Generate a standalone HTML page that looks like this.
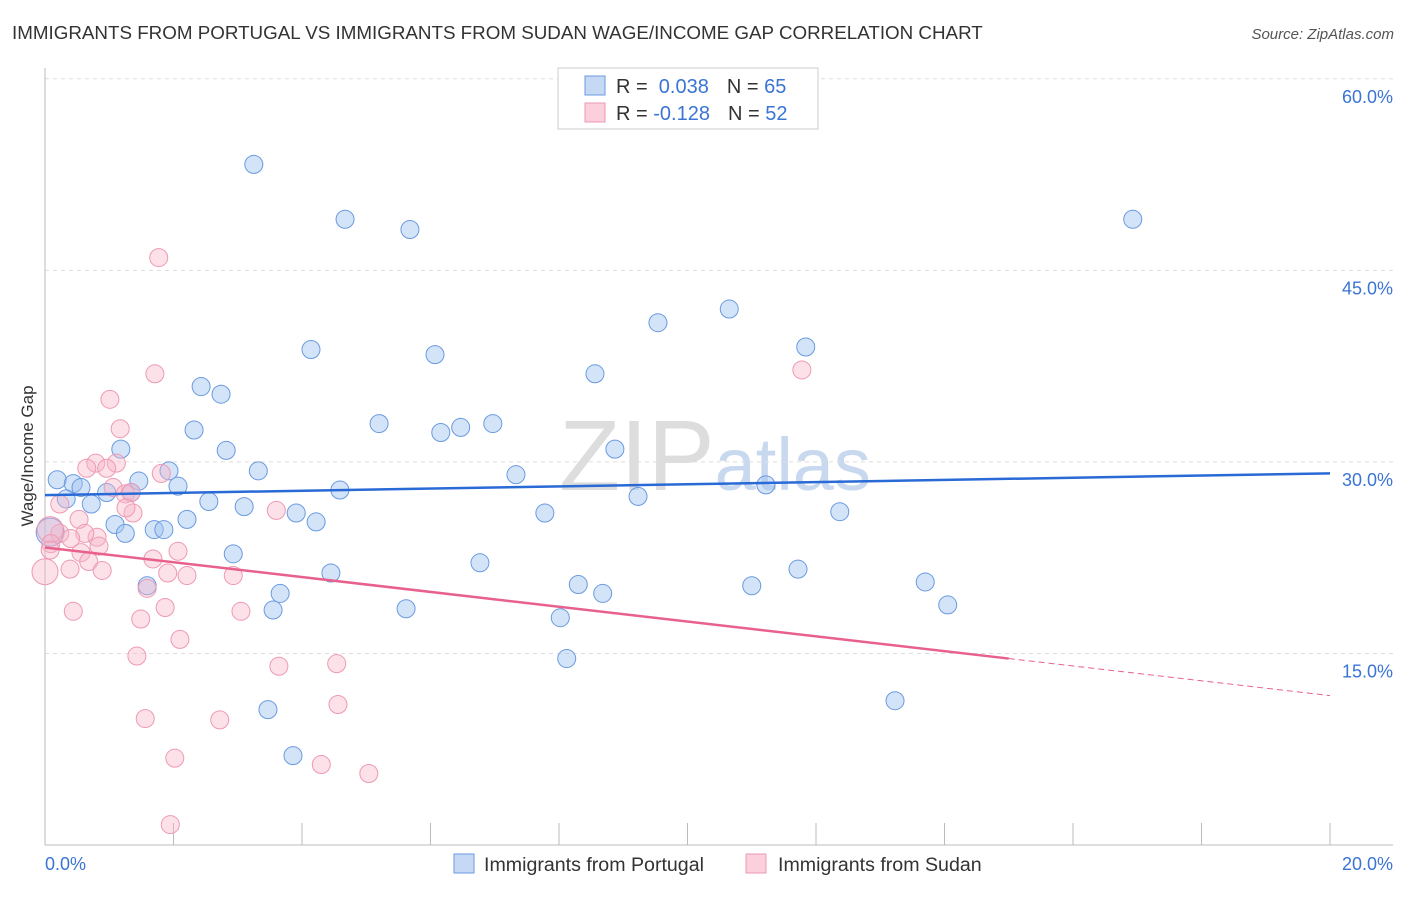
<!DOCTYPE html>
<html><head><meta charset="utf-8"><style>
body{margin:0;background:#fff;font-family:"Liberation Sans",sans-serif;}
svg text{font-family:"Liberation Sans",sans-serif;}
</style></head><body>
<svg id="chart" width="1406" height="892" viewBox="0 0 1406 892" xmlns="http://www.w3.org/2000/svg">
<text x="12" y="39" font-size="18.8" fill="#333">IMMIGRANTS FROM PORTUGAL VS IMMIGRANTS FROM SUDAN WAGE/INCOME GAP CORRELATION CHART</text>
<text x="1394" y="39" font-size="15" fill="#555" text-anchor="end" font-style="italic">Source: ZipAtlas.com</text>
<text x="715" y="490" font-size="100" fill="#ddd" text-anchor="middle" font-family="Liberation Serif">ZIP<tspan fill="#c8d8ee" font-family="Liberation Sans" font-size="74">atlas</tspan></text>
<g id="grid"></g>
<g id="axes"></g>
<g id="pts"></g>
<g id="lines"></g>
<text transform="translate(33,456) rotate(-90)" font-size="17" fill="#333" text-anchor="middle">Wage/Income Gap</text>
<g>
<rect x="558" y="68" width="260" height="61" fill="#fff" stroke="#ccc"/>
<rect x="585" y="76" width="20" height="19" fill="#c5d9f5" stroke="#6a9ae0"/>
<rect x="585" y="103" width="20" height="19" fill="#fbd0dc" stroke="#ee99b3"/>
<text x="616" y="93" font-size="20" fill="#333">R = <tspan fill="#3a74d4">&#160;0.038</tspan><tspan dx="18">N = </tspan><tspan fill="#3a74d4">65</tspan></text>
<text x="616" y="120" font-size="20" fill="#333">R = <tspan fill="#3a74d4">-0.128</tspan><tspan dx="18">N = </tspan><tspan fill="#3a74d4">52</tspan></text>
</g>
<g>
<rect x="454" y="854" width="20" height="19" fill="#c5d9f5" stroke="#6a9ae0"/>
<text x="484" y="871" font-size="19.6" fill="#333">Immigrants from Portugal</text>
<rect x="746" y="854" width="20" height="19" fill="#fbd0dc" stroke="#ee99b3"/>
<text x="778" y="871" font-size="19.6" fill="#333">Immigrants from Sudan</text>
</g>
</svg>
<script>
const xTickLabels=["0.0%","20.0%"];
const yTicks=[15,30,45,60];
const yTickLabels=["15.0%","30.0%","45.0%","60.0%"];
const portugalX=[3.25,4.67,5.68,16.93,10.65,9.54,4.14,6.07,11.84,8.56,2.43,2.74,5.20,6.47,6.97,6.16,2.32,2.82,1.18,8.87,3.32,1.93,0.19,0.44,0.56,1.46,2.07,7.33,0.96,1.34,4.59,11.22,9.23,0.33,0.72,2.55,3.10,3.91,7.78,12.37,2.21,4.22,1.09,1.70,1.85,1.25,0.08,2.93,6.77,4.45,11.72,8.30,11.00,13.70,1.59,3.66,8.68,14.05,3.55,5.62,8.02,8.12,3.47,13.23,3.86];
const portugalY=[53.3,49.0,48.2,49.0,41.97,40.9,38.8,38.4,39.0,36.9,35.9,35.3,33.0,32.7,33.0,32.3,32.5,30.9,31.0,31.0,29.3,29.3,28.6,28.3,28.0,28.5,28.1,29.0,27.6,27.6,27.8,28.2,27.3,27.1,26.7,26.9,26.5,26.0,26.0,26.1,25.5,25.3,25.1,24.7,24.7,24.4,24.5,22.8,22.1,21.3,21.6,20.4,20.3,20.6,20.3,19.7,19.7,18.8,18.4,18.5,17.8,14.6,10.6,11.3,7.0];
const sudanX=[1.77,1.71,11.78,1.01,1.17,0.79,1.11,0.65,0.96,1.81,1.06,1.25,1.34,0.23,1.37,3.60,1.26,0.53,0.81,0.62,0.23,0.08,0.40,2.07,0.84,0.56,1.68,0.68,0.09,0.0,0.39,0.89,1.91,2.21,2.93,1.59,0.44,1.87,3.05,1.49,2.10,1.43,3.64,4.54,1.56,2.72,4.56,2.02,4.30,5.04,1.95,0.08];
const sudanY=[46.0,36.9,37.2,34.9,32.6,29.9,29.9,29.5,29.5,29.1,28.0,27.5,27.6,26.7,26.0,26.2,26.4,25.5,24.1,24.4,24.4,24.7,24.0,23.0,23.4,22.9,22.4,22.2,23.6,21.4,21.6,21.5,21.3,21.1,21.1,20.1,18.3,18.6,18.3,17.7,16.1,14.8,14.0,14.2,9.9,9.8,11.0,6.8,6.3,5.6,1.6,23.1];
const portugalTrend=[27.4,29.1];
const sudanTrend=[23.3,11.7];
const NS="http://www.w3.org/2000/svg";
const X0=45,X1=1330,Y0=845,PXY=12.77;
function sx(v){return X0+(X1-X0)*v/20;}
function sy(v){return Y0-v*PXY;}
function mk(tag,attrs,parent){const e=document.createElementNS(NS,tag);for(const k in attrs)e.setAttribute(k,attrs[k]);parent.appendChild(e);return e;}
const grid=document.getElementById('grid'),axes=document.getElementById('axes'),pts=document.getElementById('pts'),lines=document.getElementById('lines');
yTicks.forEach((t,i)=>{
 const g=mk('line',{x1:X0,x2:1393,y1:sy(t),y2:sy(t),stroke:'#ddd','stroke-dasharray':'4,4'},grid);
 
 
 const tx=mk('text',{x:1393,y:sy(t)+24,'font-size':18,fill:'#3a74d4','text-anchor':'end'},axes);
 tx.textContent=yTickLabels[i];
 
 
});
const al=mk('line',{x1:X0,x2:X0,y1:68,y2:Y0,stroke:'#bbb'},axes);


const bl=mk('line',{x1:X0,x2:1393,y1:Y0,y2:Y0,stroke:'#bbb'},axes);


for(let i=0;i<=10;i++){
 const tk=mk('line',{x1:sx(i*2),x2:sx(i*2),y1:823,y2:Y0,stroke:'#bbb'},axes);
 
 
}
const xl0=mk('text',{x:45,y:870,'font-size':18,fill:'#3a74d4'},axes);
xl0.textContent=xTickLabels[0];


const xl1=mk('text',{x:1393,y:870,'font-size':18,fill:'#3a74d4','text-anchor':'end'},axes);
xl1.textContent=xTickLabels[1];


portugalX.forEach((v,i)=>{
 const r=(v<0.1&&portugalY[i]>24&&portugalY[i]<25)?14:9;
 const c=mk('circle',{cx:sx(v),cy:sy(portugalY[i]),r:r,fill:'rgba(160,195,240,0.45)',stroke:'#6a9ae0','stroke-width':1},pts);
 
 
});
sudanX.forEach((v,i)=>{
 const r=(v<0.1&&(sudanY[i]<22||sudanY[i]>24.5))?13:9;
 const c=mk('circle',{cx:sx(v),cy:sy(sudanY[i]),r:r,fill:'rgba(248,180,200,0.4)',stroke:'#ee99b3','stroke-width':1},pts);
 
 
});
const pl=mk('line',{x1:sx(0),y1:sy(portugalTrend[0]),x2:sx(20),y2:sy(portugalTrend[1]),stroke:'#2a6ad6','stroke-width':2.5},lines);


const sEndX=15,sMid=sudanTrend[0]+(sudanTrend[1]-sudanTrend[0])*sEndX/20;
const sl=mk('line',{x1:sx(0),y1:sy(sudanTrend[0]),x2:sx(sEndX),y2:sy(sMid),stroke:'#e8608c','stroke-width':2.5},lines);


const sd=mk('line',{x1:sx(sEndX),y1:sy(sMid),x2:sx(20),y2:sy(sudanTrend[1]),stroke:'#e8608c','stroke-width':1,'stroke-dasharray':'6,4'},lines);


</script>
</body></html>
